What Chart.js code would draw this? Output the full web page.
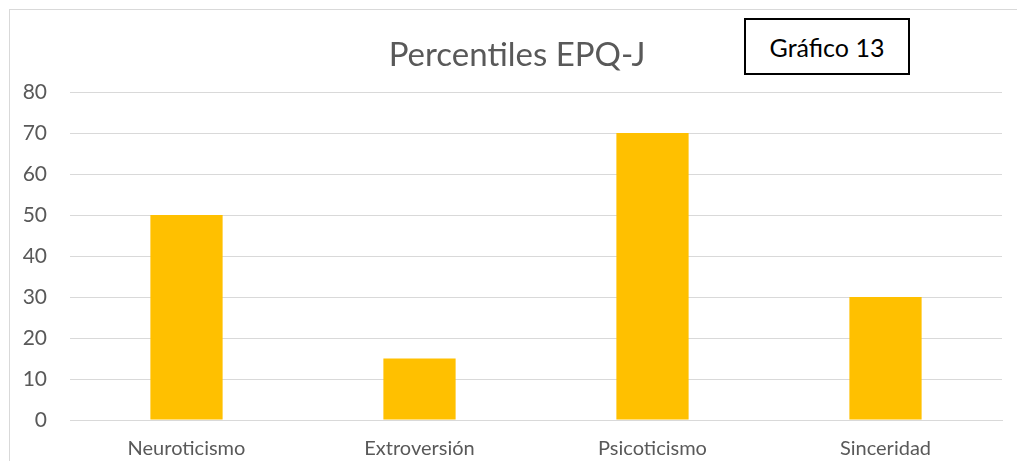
<!DOCTYPE html>
<html><head><meta charset="utf-8">
<script src="https://cdn.jsdelivr.net/npm/chart.js@4"></script>
<style>
html,body{margin:0;padding:0;background:#fff;overflow:hidden;}
#wrap{position:relative;width:1017px;height:461px;}
#frame{position:absolute;left:9px;top:9px;width:1100px;height:600px;border:1px solid #d9d9d9;box-sizing:border-box;}
#badge{position:absolute;left:744px;top:18px;width:166px;height:57px;border:2px solid #000;box-sizing:border-box;background:#fff;font-family:Lato,"Open Sans",sans-serif;font-size:25px;color:#000;display:flex;align-items:center;justify-content:center;}
canvas{position:absolute;left:0;top:0;}
</style></head>
<body><div id="wrap"><div id="frame"></div><canvas id="c" width="1017" height="461"></canvas><div id="badge">Gráfico 13</div></div>
<script>
const categories = ["Neuroticismo","Extroversión","Psicoticismo","Sinceridad"];
const values = [50,15,70,30];
const yTicks = [0,10,20,30,40,50,60,70,80];
const titleText = "Percentiles EPQ-J";

Chart.defaults.font.family = "Lato, 'Open Sans', sans-serif";
Chart.defaults.color = "#595959";
const titlePlugin = {
  id:'centeredTitle',
  afterDraw(chart){
    const ctx = chart.ctx, a = chart.chartArea;
    ctx.save();
    ctx.font = "33px Lato, 'Open Sans', sans-serif";
    ctx.fillStyle = '#595959';
    ctx.textAlign = 'center';
    ctx.textBaseline = 'middle';
    ctx.fillText(titleText, (a.left + a.right) / 2 - 19, 55);
    ctx.restore();
  }
};
new Chart(document.getElementById('c'), {
  type:'bar',
  data:{labels:categories,datasets:[{data:values,backgroundColor:'#FFC000',barPercentage:0.31,categoryPercentage:1}]},
  plugins:[titlePlugin],
  options:{
    responsive:false,animation:false,
    layout:{padding:{left:0,right:15,top:92,bottom:0}},
    plugins:{legend:{display:false},tooltip:{enabled:false},title:{display:false}},
    scales:{
      x:{grid:{display:false,drawTicks:false},border:{display:true,color:'#d9d9d9',width:1},
         ticks:{color:'#595959',font:{size:20},padding:17},
         afterFit:s=>{s.height=41;}},
      y:{min:0,max:80,afterBuildTicks:s=>{s.ticks=yTicks.map(v=>({value:v}));},
         grid:{color:'#d9d9d9',lineWidth:1,drawTicks:false},border:{display:false},
         ticks:{color:'#595959',font:{size:21},padding:23},
         afterFit:s=>{s.width=70;}}
    }
  }
});
</script></body></html>
